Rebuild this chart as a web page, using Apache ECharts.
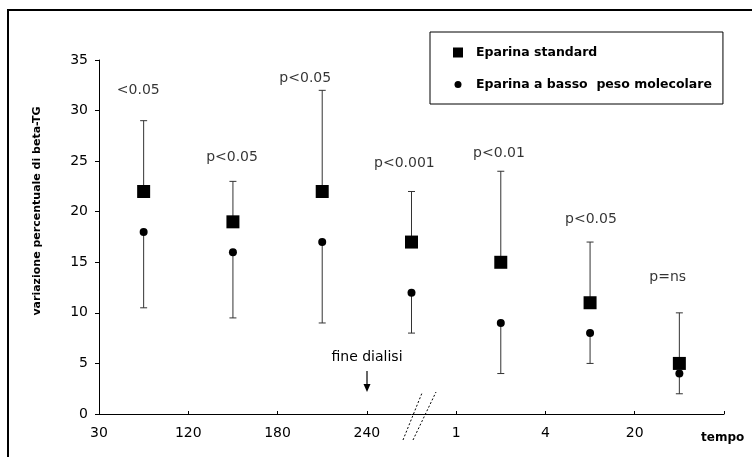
<!DOCTYPE html>
<html>
<head>
<meta charset="utf-8">
<script src="https://cdn.jsdelivr.net/npm/echarts@6/dist/echarts.min.js"></script>
<style>
  html, body { margin: 0; padding: 0; background: #fff; }
  #chart { width: 752px; height: 457px; }
</style>
</head>
<body>
<div id="chart"></div>
<script>
// asse x: etichette dei tick (la rottura sta tra 240 e 1)
const xTickLabels = ['30', '120', '180', '240', '1', '4', '20'];
// posizione dei punti (centro di ogni intervallo)
const xPos = [0.5, 1.5, 2.5, 3.5, 4.5, 5.5, 6.5];

// Eparina standard: media e limite superiore
const stdValues = [22, 19, 22, 17, 15, 11, 5];
const stdUpper = [29, 23, 32, 22, 24, 17, 10];

// Eparina a basso peso molecolare: media e limite inferiore
const lmwValues = [18, 16, 17, 12, 9, 8, 4];
const lmwLower = [10.5, 9.5, 9, 8, 4, 5, 2];

// significativita'
const pLabels = ['<0.05', 'p<0.05', 'p<0.05', 'p<0.001', 'p<0.01', 'p<0.05', 'p=ns'];
const pLabelX = [0.44, 1.49, 2.31, 3.42, 4.48, 5.51, 6.37];
const pLabelY = [32.0, 25.4, 33.2, 24.8, 25.8, 19.2, 13.5];

const FONT = 'DejaVu Sans';
const chart = echarts.init(document.getElementById('chart'));

function errorBar(params, api) {
  const x = api.value(0);
  const p0 = api.coord([x, api.value(1)]);
  const p1 = api.coord([x, api.value(2)]);
  const style = { stroke: '#333', lineWidth: 1 };
  return {
    type: 'group',
    children: [
      { type: 'line', shape: { x1: p0[0], y1: p0[1], x2: p1[0], y2: p1[1] }, style: style },
      { type: 'line', shape: { x1: p1[0] - 3.5, y1: p1[1], x2: p1[0] + 3.5, y2: p1[1] }, style: style }
    ]
  };
}

chart.setOption({
  animation: false,
  textStyle: { fontFamily: FONT },
  grid: { left: 99, right: 28, top: 60, bottom: 43 },
  legend: {
    orient: 'vertical',
    left: 430,
    top: 32,
    padding: [14, 11, 13, 23],
    itemGap: 19,
    itemWidth: 10,
    itemHeight: 10,
    borderColor: '#000',
    borderWidth: 1,
    selectedMode: false,
    textStyle: { fontFamily: FONT, fontWeight: 'bold', fontSize: 12.5, color: '#000', padding: [0, 0, 0, 8] },
    data: [
      { name: 'Eparina standard', icon: 'rect' },
      { name: 'Eparina a basso  peso molecolare', icon: 'path://M0 0M10 10M8.5 5A3.5 3.5 0 1 1 1.5 5A3.5 3.5 0 1 1 8.5 5Z' }
    ]
  },
  xAxis: {
    type: 'value',
    min: 0,
    max: 7,
    interval: 1,
    splitLine: { show: false },
    axisLine: { show: true, lineStyle: { color: '#000', width: 1 } },
    axisTick: { show: true, inside: true, length: 3, lineStyle: { color: '#000' } },
    axisLabel: {
      margin: 12,
      fontSize: 14,
      color: '#000',
      formatter: v => xTickLabels[v] || ''
    }
  },
  yAxis: {
    type: 'value',
    min: 0,
    max: 35,
    interval: 5,
    splitLine: { show: false },
    axisLine: { show: true, lineStyle: { color: '#000', width: 1 } },
    axisTick: { show: true, length: 4, lineStyle: { color: '#000' } },
    axisLabel: { margin: 11, fontSize: 14, color: '#000' }
  },
  series: [
    {
      type: 'custom',
      renderItem: errorBar,
      z: 1,
      data: xPos.map((x, i) => [x, stdValues[i], stdUpper[i]])
    },
    {
      type: 'custom',
      renderItem: errorBar,
      z: 1,
      data: xPos.map((x, i) => [x, lmwValues[i], lmwLower[i]])
    },
    {
      name: 'Eparina a basso  peso molecolare',
      type: 'scatter',
      symbol: 'circle',
      symbolSize: 8,
      z: 3,
      itemStyle: { color: '#000', opacity: 1 },
      data: xPos.map((x, i) => [x, lmwValues[i]])
    },
    {
      name: 'Eparina standard',
      type: 'scatter',
      symbol: 'rect',
      symbolSize: 13,
      z: 4,
      itemStyle: { color: '#000', opacity: 1 },
      data: xPos.map((x, i) => [x, stdValues[i]])
    },
    {
      type: 'scatter',
      symbolSize: 0,
      silent: true,
      z: 5,
      label: {
        show: true,
        position: 'inside',
        fontSize: 14,
        color: '#000',
        fontFamily: FONT,
        formatter: p => p.data[2]
      },
      data: pLabels.map((t, i) => [pLabelX[i], pLabelY[i], t])
    }
  ],
  graphic: [
    // cornice
    { type: 'polyline', shape: { points: [[8, 470], [8, 10], [760, 10]] }, style: { stroke: '#000', lineWidth: 2, fill: null } },
    // titolo asse y
    {
      type: 'text', x: 37, y: 211, rotation: Math.PI / 2,
      style: { text: 'variazione percentuale di beta-TG', font: 'bold 11px "DejaVu Sans"', fill: '#000', align: 'center', verticalAlign: 'middle' }
    },
    // titolo asse x
    { type: 'text', x: 701, y: 438, style: { text: 'tempo', font: 'bold 12px "DejaVu Sans"', fill: '#000', align: 'left', verticalAlign: 'middle' } },
    // fine dialisi
    { type: 'text', x: 367, y: 357, style: { text: 'fine dialisi', font: '14px "DejaVu Sans"', fill: '#000', align: 'center', verticalAlign: 'middle' } },
    { type: 'line', shape: { x1: 367, y1: 371, x2: 367, y2: 386 }, style: { stroke: '#000', lineWidth: 1.2 } },
    { type: 'polygon', shape: { points: [[363.5, 384], [370.5, 384], [367, 392]] }, style: { fill: '#000' } },
    // segni di interruzione dell'asse
    { type: 'line', shape: { x1: 403, y1: 440, x2: 422, y2: 393 }, style: { stroke: '#000', lineWidth: 1, lineDash: [2, 2] } },
    { type: 'line', shape: { x1: 413, y1: 440, x2: 436, y2: 392 }, style: { stroke: '#000', lineWidth: 1, lineDash: [2, 2] } }
  ]
});
</script>
</body>
</html>
